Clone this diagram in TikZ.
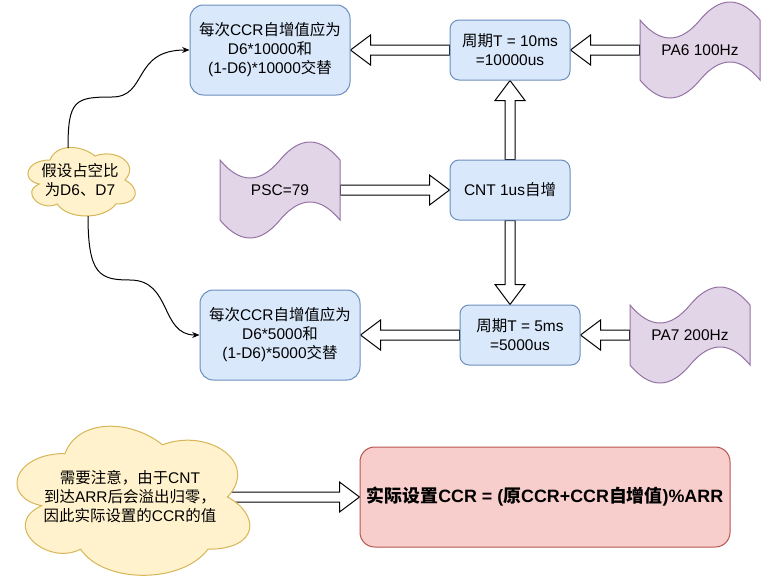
\documentclass[tikz,border=0pt]{standalone}
\usepackage{fontspec}
\setmainfont{Liberation Sans}
\newfontfamily\cjkfont{Noto Sans CJK SC}
\usetikzlibrary{arrows.meta, positioning, calc}

\definecolor{boxblue}{HTML}{DAE8FC}
\definecolor{lineblue}{HTML}{6C8EBF}
\definecolor{tapepurple}{HTML}{E1D5E7}
\definecolor{linepurple}{HTML}{9673A6}
\definecolor{cloudyellow}{HTML}{FFF2CC}
\definecolor{lineyellow}{HTML}{D6B656}
\definecolor{boxred}{HTML}{F8CECC}
\definecolor{linered}{HTML}{B85450}

% switch to the CJK font for Han characters
\newXeTeXintercharclass\hanclass
\newcount\hancount
\hancount="4E00
\loop
  \XeTeXcharclass\hancount=\hanclass
  \ifnum\hancount<"9FFF \advance\hancount by 1
\repeat
\XeTeXcharclass"3001=\hanclass
\XeTeXcharclass"FF0C=\hanclass
\XeTeXinterchartoks 0 \hanclass = {\cjkfont}
\XeTeXinterchartoks 4095 \hanclass = {\cjkfont}
\XeTeXinterchartoks \hanclass 0 = {\rmfamily}
\XeTeXinterchartoks 4095 0 = {\rmfamily}
\XeTeXinterchartokenstate=1

\pgfdeclarelayer{background}
\pgfsetlayers{background,main}

% tape: name, x, y, w, h, text
\newcommand{\tape}[6]{%
  \filldraw[tapeshape] (#2,{#3+0.2*#5})
    .. controls ({#2+#4/6},{#3+0.44*#5}) and ({#2+#4/3},{#3+0.44*#5}) .. ({#2+#4/2},{#3+0.2*#5})
    .. controls ({#2+2*#4/3},{#3-0.04*#5}) and ({#2+5*#4/6},{#3-0.04*#5}) .. ({#2+#4},{#3+0.2*#5})
    -- ({#2+#4},{#3+0.8*#5})
    .. controls ({#2+5*#4/6},{#3+0.56*#5}) and ({#2+2*#4/3},{#3+0.56*#5}) .. ({#2+#4/2},{#3+0.8*#5})
    .. controls ({#2+#4/3},{#3+1.04*#5}) and ({#2+#4/6},{#3+1.04*#5}) .. (#2,{#3+0.8*#5})
    -- cycle;
  \node[txt, minimum width={0.75pt*#4}, minimum height={0.45pt*#5}] (#1) at ({#2+#4/2},{#3+#5/2}) {#6};
}

% cloud: name, x, y, w, h, text
\newcommand{\cloudnote}[6]{%
  \filldraw[cloudshape] ({#2+0.25*#4},{#3+0.25*#5})
    .. controls ({#2+0.05*#4},{#3+0.25*#5}) and (#2,{#3+0.5*#5}) .. ({#2+0.16*#4},{#3+0.55*#5})
    .. controls (#2,{#3+0.66*#5}) and ({#2+0.18*#4},{#3+0.9*#5}) .. ({#2+0.31*#4},{#3+0.8*#5})
    .. controls ({#2+0.4*#4},{#3+#5}) and ({#2+0.7*#4},{#3+#5}) .. ({#2+0.8*#4},{#3+0.8*#5})
    .. controls ({#2+#4},{#3+0.8*#5}) and ({#2+#4},{#3+0.6*#5}) .. ({#2+0.875*#4},{#3+0.5*#5})
    .. controls ({#2+#4},{#3+0.3*#5}) and ({#2+0.8*#4},{#3+0.1*#5}) .. ({#2+0.625*#4},{#3+0.2*#5})
    .. controls ({#2+0.5*#4},{#3+0.05*#5}) and ({#2+0.3*#4},{#3+0.05*#5}) .. ({#2+0.25*#4},{#3+0.25*#5})
    -- cycle;
  \node[txt, minimum width={0.5625pt*#4}, minimum height={0.5pt*#5}] (#1) at ({#2+#4/2},{#3+#5/2}) {#6};
}

% hollow block arrow from #1 to #2
\newcommand{\blockarrow}[2]{%
  \coordinate (ah) at ($(#2)!15pt!(#1)$);
  \filldraw[flow] ($(#1)!3.75pt!90:(#2)$) -- ($(ah)!3.75pt!-90:(#1)$) -- ($(ah)!11.25pt!-90:(#1)$)
    -- (#2) -- ($(ah)!11.25pt!90:(#1)$) -- ($(ah)!3.75pt!90:(#1)$) -- ($(#1)!3.75pt!-90:(#2)$) -- cycle;
}

\begin{document}
\begin{tikzpicture}[x=0.75pt, y=-0.75pt,
  txt/.style={font=\fontsize{11.6}{14.25}\selectfont, align=center, inner sep=0pt},
  bluebox/.style={txt, draw=lineblue, fill=boxblue, line width=0.75pt, rounded corners=6.75pt,
    minimum width=90pt, minimum height=45pt},
  bigbox/.style={bluebox, minimum width=120pt, minimum height=67.5pt, rounded corners=10pt},
  redbox/.style={txt, draw=linered, fill=boxred, line width=0.75pt, rounded corners=11pt,
    minimum width=277.5pt, minimum height=75pt, font=\fontsize{13.4}{16}\selectfont\bfseries},
  tapeshape/.style={draw=linepurple, fill=tapepurple, line width=0.75pt},
  cloudshape/.style={draw=lineyellow, fill=cloudyellow, line width=0.75pt},
  flow/.style={draw=black, fill=white, line width=0.75pt, line join=miter},
  link/.style={-{Stealth[length=5.5pt, width=4.5pt]}, line width=0.75pt}]
  \useasboundingbox (0,0) rectangle (761,586);

  % boxes
  \node[bigbox] (ccrten) at (270,50) {每次CCR自增值应为\\D6*10000和\\(1-D6)*10000交替};
  \node[bluebox] (periodten) at (510,50) {周期T = 10ms\\=10000us};
  \node[bluebox] (cnt) at (510,190) {CNT 1us自增};
  \node[bluebox] (periodfive) at (520,335) {周期T = 5ms\\=5000us};
  \node[bigbox] (ccrfive) at (280,335) {每次CCR自增值应为\\D6*5000和\\(1-D6)*5000交替};
  \node[redbox] (result) at (545,497) {实际设置CCR = (原CCR+CCR自增值)\%ARR};

  % signals
  \tape{pasix}{640}{0}{120}{100}{PA6 100Hz}
  \tape{psc}{220}{140}{120}{100}{PSC=79}
  \tape{paseven}{630}{285}{120}{100}{PA7 200Hz}

  % notes
  \cloudnote{duty}{20}{140}{120}{80}{假设占空比\\为D6、D7}
  \cloudnote{note}{0}{410}{260}{174}{需要注意，由于CNT\\到达ARR后会溢出归零，\\因此实际设置的CCR的值}

  % block arrows
  \coordinate (cntdown) at (cnt.south |- periodfive.north);
  \begin{pgfonlayer}{background}
    \blockarrow{pasix.west}{periodten.east}
    \blockarrow{periodten.west}{ccrten.east}
    \blockarrow{psc.east}{cnt.west}
    \blockarrow{cnt.north}{periodten.south}
    \blockarrow{cnt.south}{cntdown}
    \blockarrow{paseven.west}{periodfive.east}
    \blockarrow{periodfive.west}{ccrfive.east}
    \blockarrow{note.east}{result.west}
  \end{pgfonlayer}

  % duty cycle links
  \coordinate (dutytop) at (68,148);
  \coordinate (dutybottom) at (88,216);
  \draw[link] (dutytop) .. controls (68,100) and (75,97) .. (112,97)
    .. controls (148,97) and (132,50) .. (ccrten.west);
  \draw[link] (dutybottom) .. controls (88,275) and (100,280) .. (130,280)
    .. controls (172,280) and (160,335) .. (ccrfive.west);
\end{tikzpicture}
\end{document}
